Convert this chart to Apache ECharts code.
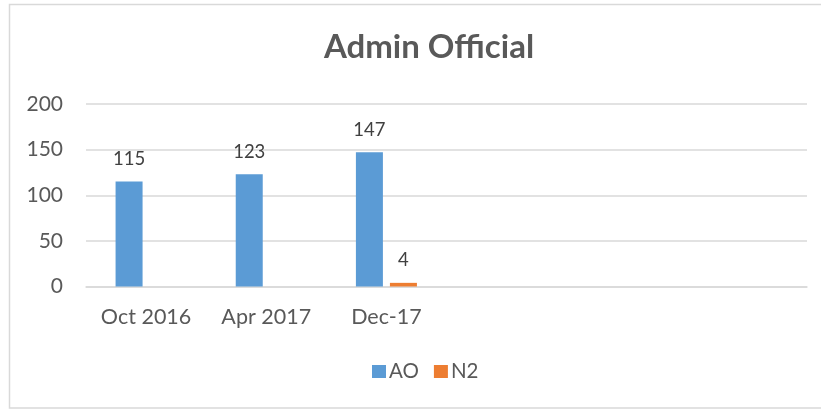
<!DOCTYPE html>
<html>
<head>
<meta charset="utf-8">
<script src="https://cdn.jsdelivr.net/npm/echarts@6/dist/echarts.min.js"></script>
<style>
  html, body { margin: 0; padding: 0; background: #fff; }
  #chart { width: 821px; height: 411px; }
</style>
</head>
<body>
<div id="chart"></div>
<script>
// Headcount per period; the trailing blank categories keep the empty room on the right.
const categories = ['Oct 2016', 'Apr 2017', 'Dec-17', '', '', ''];
const aoValues = [115, 123, 147, null, null, null];
const n2Values = [null, null, 4, null, null, null];
const yTicks = { min: 0, max: 200, interval: 50 };

const FONT = 'Lato';
const chart = echarts.init(document.getElementById('chart'), null, { renderer: 'canvas' });

const labelStyle = {
  show: true,
  position: 'top',
  distance: 13,
  fontFamily: FONT,
  fontSize: 18.5,
  color: '#404040',
  formatter: p => (p.value == null ? '' : p.value)
};

chart.setOption({
  animation: false,
  backgroundColor: '#ffffff',
  textStyle: { fontFamily: FONT },
  graphic: [{
    type: 'rect',
    silent: true,
    shape: { x: 9.5, y: 4.5, width: 820, height: 403.5 },
    style: { fill: 'none', stroke: '#d9d9d9', lineWidth: 1.5 }
  }],
  title: {
    text: 'Admin Official',
    left: 424,
    textAlign: 'center',
    top: 26,
    textStyle: { fontFamily: FONT, fontSize: 33, fontWeight: 'bold', color: '#595959' }
  },
  legend: {
    data: ['AO', 'N2'],
    left: 372,
    top: 361,
    padding: 0,
    itemWidth: 14,
    itemHeight: 13,
    itemGap: 15,
    icon: 'rect',
    textStyle: { fontFamily: FONT, fontSize: 20.5, color: '#595959', padding: [0, 0, 0, -2] }
  },
  grid: { left: 86, right: 14, top: 104, bottom: 124.5, containLabel: false },
  xAxis: {
    type: 'category',
    data: categories,
    axisLine: { lineStyle: { color: '#d9d9d9', width: 1.5 } },
    axisTick: { show: false },
    axisLabel: { fontFamily: FONT, fontSize: 21.5, color: '#595959', margin: 20 },
    splitLine: { show: false }
  },
  yAxis: {
    type: 'value',
    min: yTicks.min,
    max: yTicks.max,
    interval: yTicks.interval,
    axisLine: { show: false },
    axisTick: { show: false },
    axisLabel: { fontFamily: FONT, fontSize: 21, color: '#595959', margin: 23 },
    splitLine: { lineStyle: { color: '#d9d9d9', width: 1.5 } }
  },
  series: [
    {
      name: 'AO',
      type: 'bar',
      data: aoValues,
      barWidth: 27,
      barGap: '26%',
      itemStyle: { color: '#5b9bd5' },
      label: labelStyle
    },
    {
      name: 'N2',
      type: 'bar',
      data: n2Values,
      barWidth: 27,
      itemStyle: { color: '#ed7d31' },
      label: labelStyle
    }
  ]
});
</script>
</body>
</html>
